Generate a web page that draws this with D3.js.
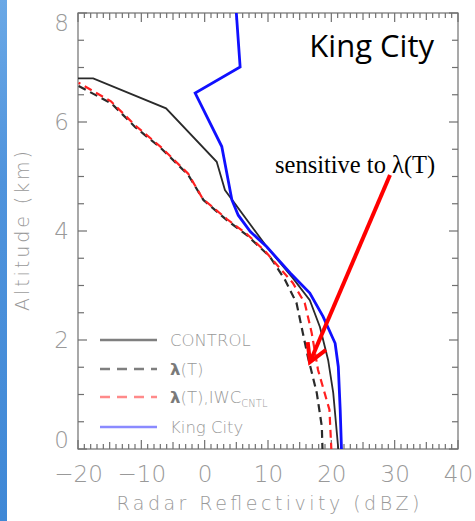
<!DOCTYPE html>
<html>
<head>
<meta charset="utf-8">
<script src="https://cdn.jsdelivr.net/npm/d3@7"></script>
<style>
  html, body { margin: 0; padding: 0; background: #fff; }
  svg { display: block; }
</style>
</head>
<body>
<svg id="chart" width="475" height="521"></svg>
<script>
// Reflectivity profiles: [reflectivity (dBZ), altitude (km)]
const controlProfile = [
  [-20, 6.80], [-17.6, 6.80], [-6.1, 6.25], [1.9, 5.27], [3.2, 4.75],
  [9.8, 3.71], [13.9, 3.14], [16.6, 2.73], [18.2, 2.24], [19.5, 1.63],
  [20.3, 1.03], [21.1, 0.0]
];
const lambdaTProfile = [
  [-19.9, 6.66], [-14.7, 6.34], [-11.0, 5.91], [-6.9, 5.52], [-2.6, 5.03],
  [-0.2, 4.57], [3.5, 4.20], [6.6, 3.93], [10.3, 3.53], [12.7, 3.10],
  [14.5, 2.68], [15.5, 2.13], [16.3, 1.69], [17.7, 1.03], [18.5, 0.41],
  [18.6, 0.0]
];
const lambdaTIwcProfile = [
  [-19.9, 6.72], [-14.8, 6.38], [-11.0, 5.94], [-6.9, 5.54], [-2.6, 5.05],
  [-0.3, 4.59], [3.5, 4.22], [6.7, 3.94], [9.7, 3.61], [11.4, 3.38],
  [13.9, 3.05], [15.8, 2.68], [16.9, 2.13], [17.9, 1.45], [19.7, 0.72],
  [20.0, 0.0]
];
const kingCityProfile = [
  [5.0, 8.0], [5.6, 7.01], [-1.5, 6.53], [2.7, 5.55], [4.3, 4.57],
  [5.3, 4.29], [7.2, 3.99], [9.8, 3.71], [13.5, 3.23], [16.6, 2.86],
  [18.7, 2.43], [20.6, 1.94], [21.1, 1.51], [21.4, 0.72], [21.6, 0.0]
];

const xTicks = [-20, -10, 0, 10, 20, 30, 40];
const yTicks = [0, 2, 4, 6, 8];
const seriesNames = ["CONTROL", "λ(T)", "λ(T),IWC", "King City"];

const svg = d3.select("#chart");
const W = 475, H = 521;
const plotL = 78, plotR = 458, plotT = 13, plotB = 449;

const x = d3.scaleLinear().domain([-20, 40]).range([plotL, plotR]);
const y = d3.scaleLinear().domain([0, 8]).range([plotB, plotT]);

// slide background strip on the left edge
const defs = svg.append("defs");
const grad = defs.append("linearGradient").attr("id", "strip")
  .attr("x1", 0).attr("y1", 0).attr("x2", 0).attr("y2", 1);
grad.append("stop").attr("offset", "0%").attr("stop-color", "#6aa8e6");
grad.append("stop").attr("offset", "35%").attr("stop-color", "#4f93dc");
grad.append("stop").attr("offset", "100%").attr("stop-color", "#3f88d6");
svg.append("rect").attr("x", 0).attr("y", 0).attr("width", 7).attr("height", H)
  .attr("fill", "url(#strip)");

defs.append("clipPath").attr("id", "plotclip").append("rect")
  .attr("x", plotL).attr("y", plotT).attr("width", plotR - plotL).attr("height", plotB - plotT);

const axisColor = "#707070";
const textColor = "#999999";
const tickFont = "'DejaVu Sans', sans-serif";

// frame
svg.append("rect").attr("x", plotL).attr("y", plotT)
  .attr("width", plotR - plotL).attr("height", plotB - plotT)
  .attr("fill", "none").attr("stroke", axisColor).attr("stroke-width", 1.2);

// inward tick marks on all four sides
const minorX = d3.range(-20, 41, 1);
const minorY = d3.range(0, 8.01, 0.5);
const xTickLen = v => (v % 10 === 0 ? 9 : v % 5 === 0 ? 7 : 5);
const yTickLen = v => (v % 2 === 0 ? 9 : 6);
const ticks = svg.append("g").attr("stroke", axisColor).attr("stroke-width", 1.2);
ticks.selectAll("line.xb").data(minorX).join("line").attr("class", "xb")
  .attr("x1", d => x(d)).attr("x2", d => x(d))
  .attr("y1", plotB).attr("y2", d => plotB - xTickLen(d));
ticks.selectAll("line.xt").data(minorX).join("line").attr("class", "xt")
  .attr("x1", d => x(d)).attr("x2", d => x(d))
  .attr("y1", plotT).attr("y2", d => plotT + xTickLen(d));
ticks.selectAll("line.yl").data(minorY).join("line").attr("class", "yl")
  .attr("y1", d => y(d)).attr("y2", d => y(d))
  .attr("x1", plotL).attr("x2", d => plotL + yTickLen(d));
ticks.selectAll("line.yr").data(minorY).join("line").attr("class", "yr")
  .attr("y1", d => y(d)).attr("y2", d => y(d))
  .attr("x1", plotR).attr("x2", d => plotR - yTickLen(d));

// tick labels from the axis generators
function styleLabels(g) {
  g.select(".domain").remove();
  g.selectAll(".tick line").remove();
  g.selectAll(".tick text").attr("fill", textColor)
    .attr("font-family", tickFont).attr("font-weight", 200).attr("font-size", 23);
}
svg.append("g").attr("transform", `translate(0,${plotB})`)
  .call(d3.axisBottom(x).tickValues(xTicks).tickSize(0).tickPadding(17)
    .tickFormat(d => d < 0 ? "−" + Math.abs(d) : String(d)))
  .call(styleLabels);
const yAxisG = svg.append("g").attr("transform", `translate(${plotL},0)`)
  .call(d3.axisLeft(y).tickValues(yTicks).tickSize(0).tickPadding(9).tickFormat(d3.format("d")))
  .call(styleLabels);
// keep the end labels inside the frame height
yAxisG.selectAll(".tick text").attr("y", d => d === 8 ? 10 : d === 0 ? -9 : 0);

// axis titles
svg.append("text")
  .attr("x", (plotL + plotR) / 2).attr("y", 510)
  .attr("text-anchor", "middle")
  .attr("font-family", tickFont).attr("font-weight", 200).attr("font-size", 19).attr("fill", textColor)
  .attr("textLength", 303).attr("lengthAdjust", "spacing")
  .text("Radar Reflectivity (dBZ)");
svg.append("text")
  .attr("transform", `translate(29,${(plotT + plotB) / 2}) rotate(-90)`)
  .attr("text-anchor", "middle")
  .attr("font-family", tickFont).attr("font-weight", 200).attr("font-size", 19).attr("fill", textColor)
  .attr("textLength", 160).attr("lengthAdjust", "spacing")
  .text("Altitude (km)");

// profiles
const line = d3.line().x(d => x(d[0])).y(d => y(d[1]));
const plot = svg.append("g").attr("clip-path", "url(#plotclip)");

plot.append("path").datum(controlProfile).attr("d", line)
  .attr("fill", "none").attr("stroke", "#2a2a2a").attr("stroke-width", 1.8);
plot.append("path").datum(lambdaTProfile).attr("d", line)
  .attr("fill", "none").attr("stroke", "#2a2a2a").attr("stroke-width", 2.2)
  .attr("stroke-dasharray", "8,5");
plot.append("path").datum(lambdaTIwcProfile).attr("d", line)
  .attr("fill", "none").attr("stroke", "#ff2020").attr("stroke-width", 2.2)
  .attr("stroke-dasharray", "8,5").attr("stroke-dashoffset", 6);
plot.append("path").datum(kingCityProfile).attr("d", line)
  .attr("fill", "none").attr("stroke", "#1010ff").attr("stroke-width", 2.8);

// legend
const legendRows = [
  { name: seriesNames[0], stroke: "#7f7f7f", dash: null, w: 2.5 },
  { name: seriesNames[1], stroke: "#7f7f7f", dash: "10,7", w: 2.5 },
  { name: seriesNames[2], stroke: "#ff8a8a", dash: "10,7", w: 2.5, sub: "CNTL" },
  { name: seriesNames[3], stroke: "#8a8aff", dash: null, w: 2.5 }
];
const legendY = [340, 369, 397, 427];
const legend = svg.append("g");
legendRows.forEach((r, i) => {
  const ly = legendY[i];
  legend.append("line").attr("x1", 100).attr("x2", 157).attr("y1", ly).attr("y2", ly)
    .attr("stroke", r.stroke).attr("stroke-width", r.w)
    .attr("stroke-dasharray", r.dash);
  const t = legend.append("text").attr("x", 170).attr("y", ly + 6)
    .attr("font-family", tickFont).attr("font-weight", 200).attr("font-size", 16.5).attr("fill", textColor);
  if (r.name.startsWith("λ")) {
    t.append("tspan").attr("font-weight", "bold").attr("fill", "#7a7a7a").text("λ");
    t.append("tspan").text(r.name.slice(1));
  } else {
    t.text(r.name);
  }
  if (r.sub) {
    t.append("tspan").attr("font-size", 10).attr("dy", 4).text(r.sub);
  }
});

// annotations
svg.append("text").attr("x", 434).attr("y", 57).attr("text-anchor", "end")
  .attr("font-family", "'Open Sans', sans-serif").attr("font-size", 31).attr("fill", "#000")
  .text("King City");
svg.append("text").attr("x", 275).attr("y", 173)
  .attr("font-family", "'Liberation Serif', serif").attr("font-size", 24.5).attr("fill", "#000")
  .text("sensitive to λ(T)");

// arrow pointing at the λ(T) profile
const tail = [390, 175], tip = [310, 362];
const ang = Math.atan2(tail[1] - tip[1], tail[0] - tip[0]);
const headLen = 20, spread = 0.52;
const wing = a => [tip[0] + headLen * Math.cos(a), tip[1] + headLen * Math.sin(a)];
svg.append("line").attr("x1", tail[0]).attr("y1", tail[1]).attr("x2", tip[0]).attr("y2", tip[1])
  .attr("stroke", "#ff0000").attr("stroke-width", 4).attr("stroke-linecap", "butt");
svg.append("polyline")
  .attr("points", [wing(ang - spread), tip, wing(ang + spread)].map(p => p.join(",")).join(" "))
  .attr("fill", "none").attr("stroke", "#ff0000").attr("stroke-width", 4)
  .attr("stroke-linejoin", "miter");
</script>
</body>
</html>
